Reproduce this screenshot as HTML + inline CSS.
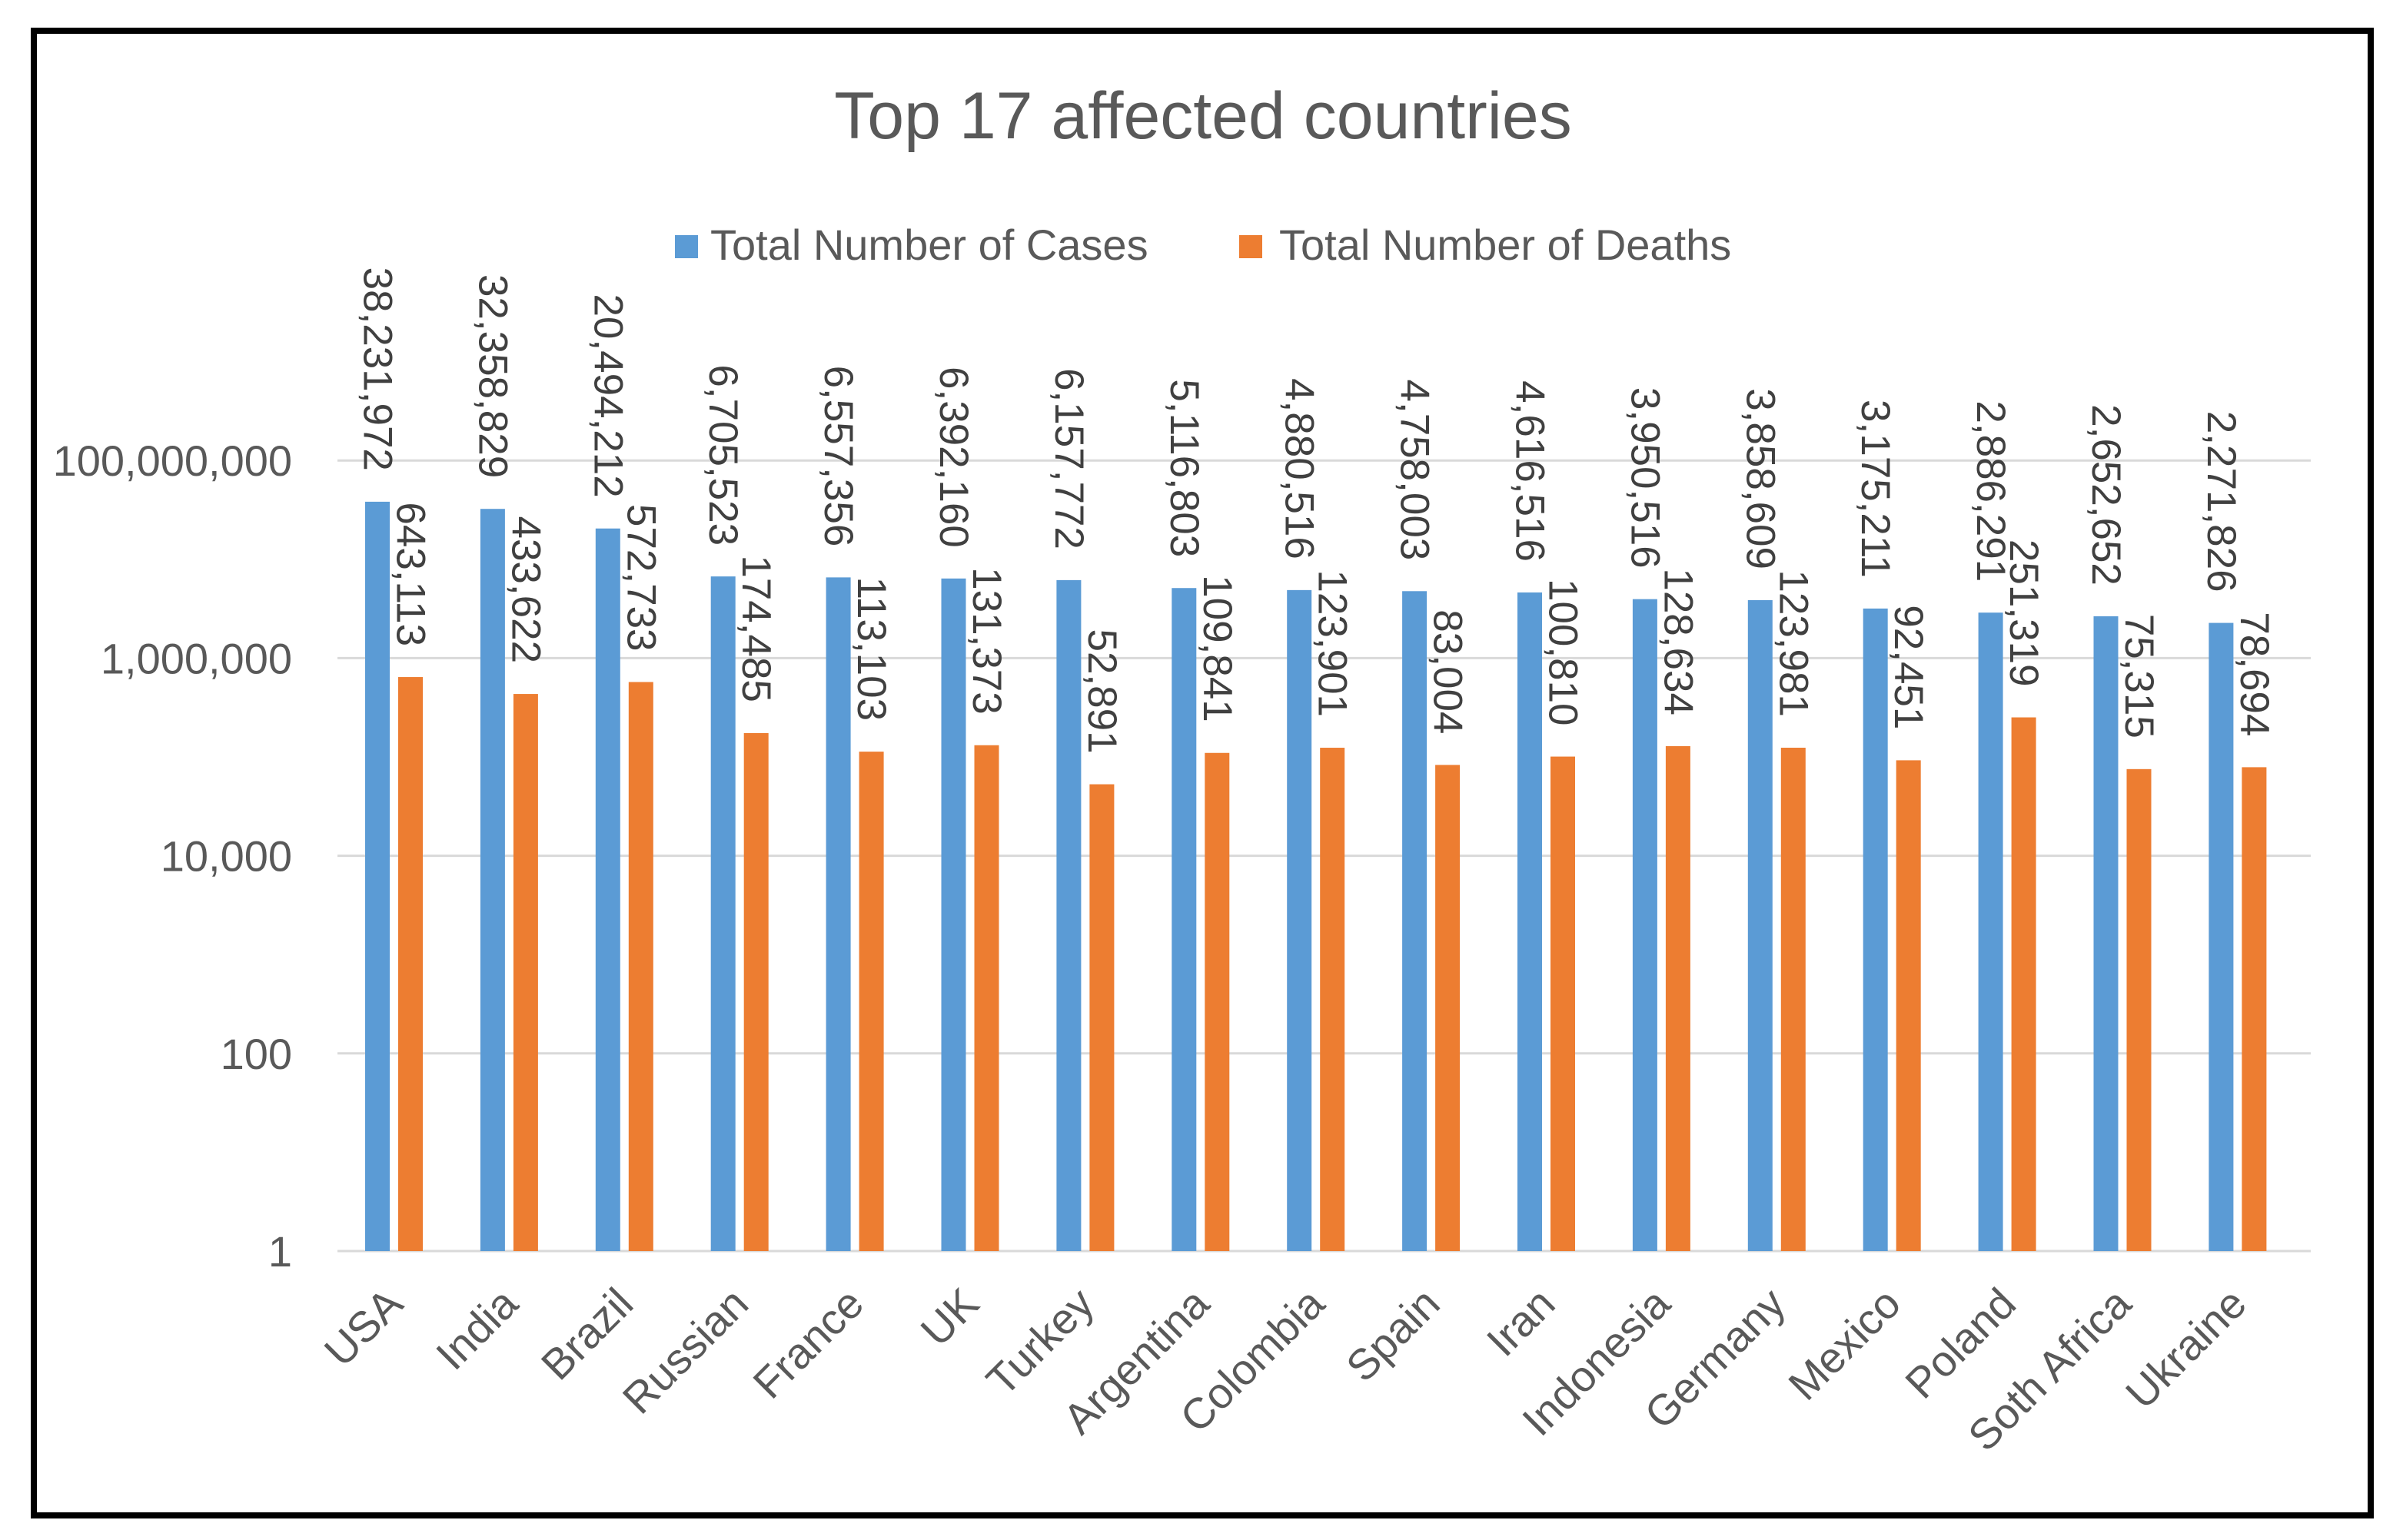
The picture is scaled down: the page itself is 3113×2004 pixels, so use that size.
<!DOCTYPE html>
<html><head><meta charset="utf-8"><style>
html,body{margin:0;padding:0;background:#fff;width:3113px;height:2004px;overflow:hidden}
svg{display:block;font-family:"Liberation Sans",sans-serif}
</style></head><body>
<svg id="chart" width="3113" height="2004" viewBox="0 0 3113 2004">
<rect x="44" y="40" width="3040" height="1932" fill="#fff" stroke="#000" stroke-width="8"/>
<text x="1565" y="180" text-anchor="middle" font-size="86" fill="#595959">Top 17 affected countries</text>
<rect x="878" y="306" width="30" height="30" fill="#5b9bd5"/>
<text x="924" y="338" font-size="56" fill="#595959">Total Number of Cases</text>
<rect x="1612" y="306" width="30" height="30" fill="#ed7d31"/>
<text x="1664" y="338" font-size="56" fill="#595959">Total Number of Deaths</text>
<g id="grid"></g><g id="bars"></g><g id="labels"></g>
</svg>
<script>
const categories=["USA","India","Brazil","Russian","France","UK","Turkey","Argentina","Colombia","Spain","Iran","Indonesia","Germany","Mexico","Poland","Soth Africa","Ukraine"];
const cases=[38231972,32358829,20494212,6705523,6557356,6392160,6157772,5116803,4880516,4758003,4616516,3950516,3858609,3175211,2886291,2652652,2271826];
const deaths=[643113,433622,572733,174485,113103,131373,52891,109841,123901,83004,100810,128634,123981,92451,251319,75315,78694];
const tickValues=[1,100,10000,1000000,100000000];
const tickLabels=["1","100","10,000","1,000,000","100,000,000"];
const NS="http://www.w3.org/2000/svg";
const y0=1628, perDecade=128.6, x0=448, catW=149.9;
function y(v){return y0-Math.log10(v)*perDecade;}
function xBlue(i){return x0+27+i*catW;}
function mk(t,a,p){const e=document.createElementNS(NS,t);for(const k in a)e.setAttribute(k,a[k]);p.appendChild(e);return e;}
const grid=document.getElementById('grid'),bars=document.getElementById('bars'),labels=document.getElementById('labels');
tickValues.forEach((v,i)=>{
  const l=mk('line',{x1:439,x2:3006,y1:y(v),y2:y(v),stroke:'#d9d9d9','stroke-width':3},grid);
  
  
  const t=mk('text',{x:380,y:y(v)+20,'text-anchor':'end','font-size':56,fill:'#595959'},grid);
  t.textContent=tickLabels[i];
  
  
});
const fmt=n=>n.toLocaleString('en-US');
categories.forEach((c,i)=>{
  const bx=xBlue(i), ox=bx+43, w=32;
  const b=mk('rect',{x:bx,y:y(cases[i]),width:w,height:y0-y(cases[i]),fill:'#5b9bd5'},bars);
  
  
  const o=mk('rect',{x:ox,y:y(deaths[i]),width:w,height:y0-y(deaths[i]),fill:'#ed7d31'},bars);
  
  
  [[bx,cases[i]],[ox,deaths[i]]].forEach(([xx,v])=>{
    const cx=xx+w/2, yy=y(v)-40;
    const t=mk('text',{x:0,y:0,'text-anchor':'end','dominant-baseline':'central','font-size':53,fill:'#404040',transform:`translate(${cx},${yy}) rotate(90)`},labels);
    t.textContent=fmt(v);
    
    
  });
  const t=mk('text',{x:0,y:0,'text-anchor':'end','font-size':56,fill:'#595959',transform:`translate(${bx+52},${1700}) rotate(-45)`},labels);
  t.textContent=c;
  
  
});
</script>
</body></html>
